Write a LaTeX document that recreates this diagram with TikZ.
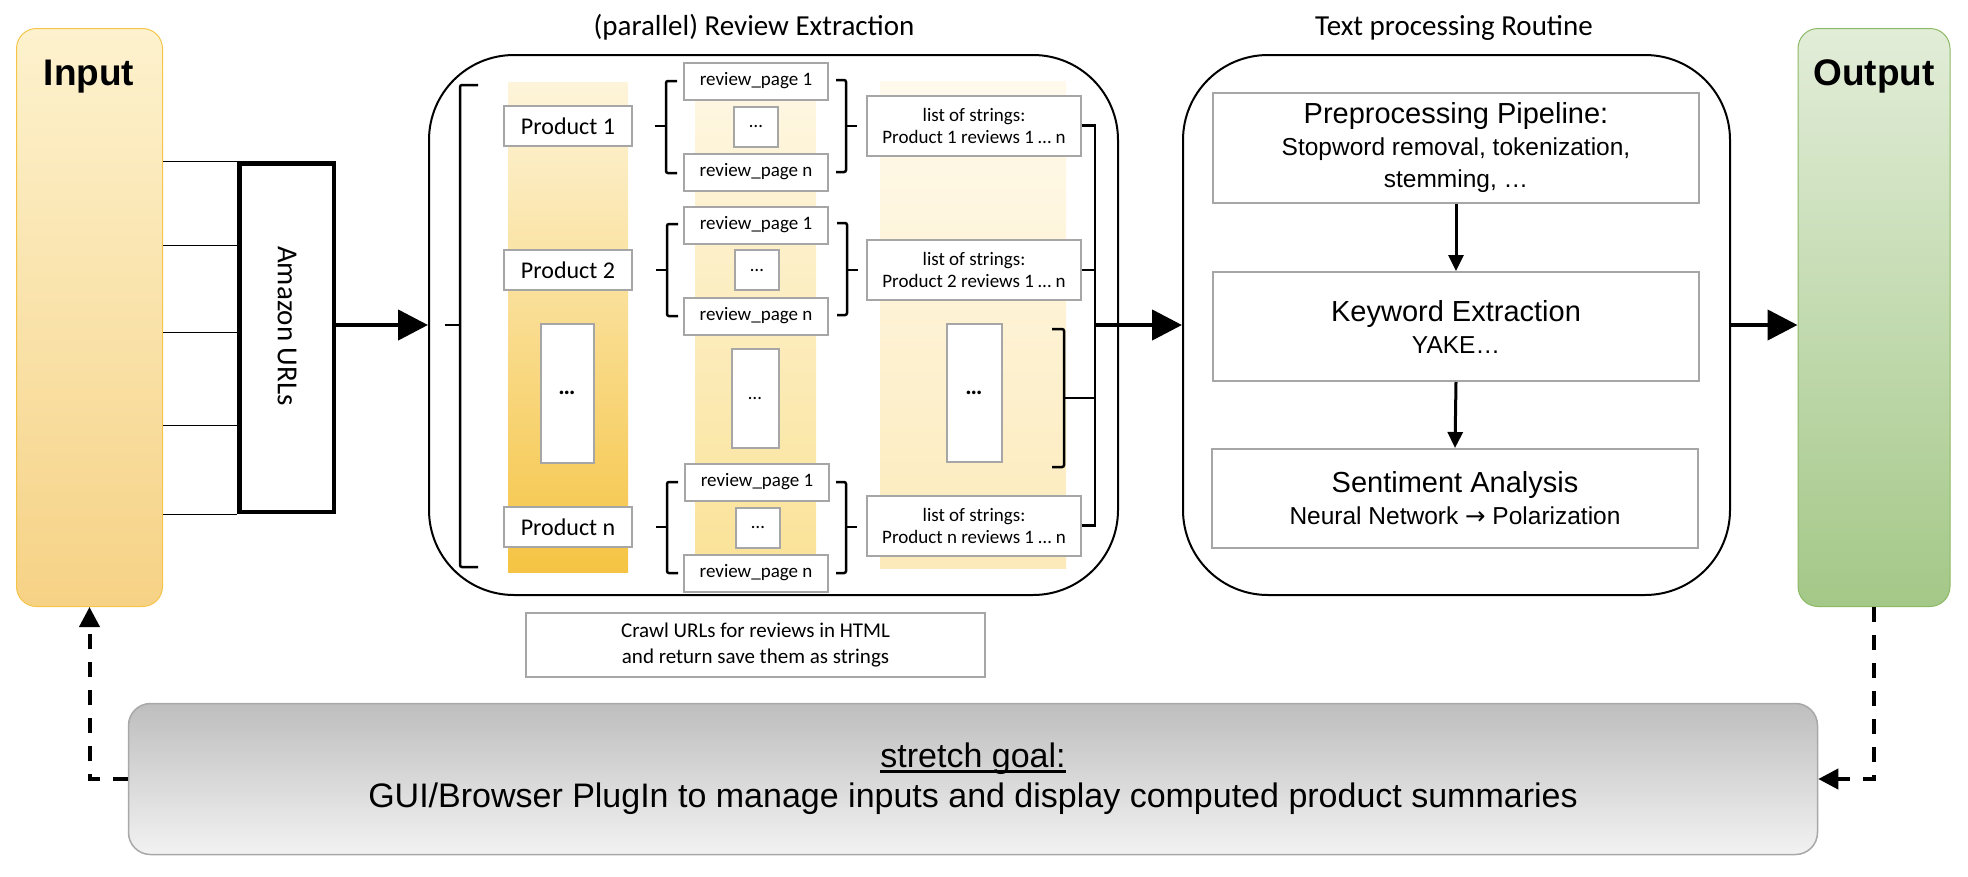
\documentclass[tikz,border=0pt]{standalone}
\usepackage{fontspec}
\setmainfont{Liberation Sans}
\newfontfamily\calfont{Carlito}
\newfontfamily\symfont{DejaVu Sans}
\usetikzlibrary{arrows.meta, positioning, calc}

\definecolor{boxgray}{RGB}{166,166,166}
\definecolor{inTop}{RGB}{253,242,206}
\definecolor{inBot}{RGB}{246,210,133}
\definecolor{inLine}{RGB}{246,196,72}
\definecolor{outTop}{RGB}{226,237,216}
\definecolor{outBot}{RGB}{164,200,136}
\definecolor{outLine}{RGB}{140,185,100}
\definecolor{colAtop}{RGB}{253,244,218}
\definecolor{colAbot}{RGB}{245,196,67}
\definecolor{colBtop}{RGB}{254,247,228}
\definecolor{colBbot}{RGB}{250,226,150}
\definecolor{colCtop}{RGB}{255,250,236}
\definecolor{colCbot}{RGB}{252,234,186}
\definecolor{guiTop}{RGB}{190,190,190}
\definecolor{guiBot}{RGB}{242,242,242}
\definecolor{guiLine}{RGB}{168,168,168}

\tikzset{
  grybox/.style={draw=boxgray, line width=2pt, fill=white, inner sep=0pt},
  bigbox/.style={draw, line width=2pt, rounded corners=85pt, inner sep=0pt,
    minimum height=540pt},
  column/.style={inner sep=0pt, draw=none},
  brak/.style={line width=2.5pt, rounded corners=2pt},
  fat/.style={line width=4.5pt, -{Triangle[length=30pt,width=30pt]}},
  conn/.style={line width=2.5pt},
  backlink/.style={line width=4pt, dash pattern=on 15pt off 13pt,
    -{Triangle[length=20pt,width=20pt]}}
}

\newcommand{\bracket}[6]{%
  \draw[brak] ({#1+#5},#2) -- (#1,#2) -- (#1,#3) -- ({#1+#5},#3);
  \draw[brak] (#1,#4) -- ({#1+#6},#4);}
\newcommand{\thickul}[1]{\setbox0\hbox{#1}\rlap{\rule[-5pt]{\wd0}{2.5pt}}\box0}

\begin{document}
\begin{tikzpicture}[x=1pt, y=-1pt]
  \useasboundingbox (0,0) rectangle (1968,876);

  \node[draw=inLine, line width=1pt, rounded corners=20pt, top color=inTop, bottom color=inBot,
    minimum width=146pt, minimum height=578pt, inner sep=0pt] (input) at (89.5,317.5) {};
  \node[anchor=base, font=\bfseries\fontsize{37}{44}\selectfont] (intitle) at (89,85) {Input};
  \node[draw=outLine, line width=1pt, rounded corners=20pt, top color=outTop, bottom color=outBot,
    minimum width=152pt, minimum height=578pt, inner sep=0pt] (output) at (1874,317.5) {};
  \node[anchor=base, font=\bfseries\fontsize{37}{44}\selectfont] (outtitle) at (1874,85) {Output};

  \node[draw, line width=4.5pt, minimum width=94.5pt, minimum height=348.5pt, inner sep=0pt]
    (amazon) at (286.5,337.5) {};
  \node[rotate=-90, font=\calfont\fontsize{29}{34}\selectfont] (urls) at (287,326) {Amazon URLs};

  \foreach \f in {0,0.239,0.487,0.749,1} {
    \path ($(amazon.north west)!\f!(amazon.south west)$) coordinate (p);
    \draw[line width=1pt] (p) -- (p -| input.east);
  }

  \node[bigbox, minimum width=689pt] (extract) at (773.5,325) {};
  \node[bigbox, minimum width=547pt] (textproc) at (1456.5,325) {};
  \node[anchor=base, font=\calfont\fontsize{29}{34}\selectfont] (extracttitle) at (754,35) {(parallel) Review Extraction};
  \node[anchor=base, font=\calfont\fontsize{29}{34}\selectfont] (proctitle) at (1454,35) {Text processing Routine};

  \node[column, minimum width=120pt, minimum height=490pt, top color=colAtop, bottom color=colAbot] (col1) at (568,327) {};
  \node[column, minimum width=121pt, minimum height=494pt, top color=colBtop, bottom color=colBbot] (col2) at (755.5,325) {};
  \node[column, minimum width=186pt, minimum height=487pt, top color=colCtop, bottom color=colCbot] (col3) at (973,324.5) {};

  \begin{scope}[every node/.style={grybox, minimum width=128pt, minimum height=40pt,
      font=\calfont\fontsize{24}{28}\selectfont}]
    \node (prod1) at (568,126) {Product 1};
    \node (prod2) at (568,270) {Product 2};
    \node (prodn) at (568,527) {Product n};
  \end{scope}

  \begin{scope}[every node/.style={grybox, minimum width=144pt, minimum height=37pt,
      font=\calfont\fontsize{19}{22}\selectfont}]
    \node (page1a) at (756,81) {review\_page 1};
    \node (page1n) at (756,172) {review\_page n};
    \node (page2a) at (756,225) {review\_page 1};
    \node (page2n) at (756,316) {review\_page n};
    \node (pagena) at (757,482) {review\_page 1};
    \node (pagenn) at (756,573) {review\_page n};
  \end{scope}

  \begin{scope}[every node/.style={grybox, minimum width=44pt, minimum height=40pt,
      font=\calfont\fontsize{19}{22}\selectfont}]
    \node (dots1) at (756,126.5) {…};
    \node (dots2) at (757,270) {…};
    \node (dotsn) at (758,527.5) {…};
    \node[minimum width=47pt, minimum height=99pt] (dotspage) at (755,398) {…};
    \node[minimum width=53pt, minimum height=139pt, font=\calfont\bfseries\fontsize{24}{28}\selectfont] (dotsprod) at (567,393) {…};
    \node[minimum width=55pt, minimum height=138pt, font=\calfont\bfseries\fontsize{24}{28}\selectfont] (dotslist) at (974,392.5) {…};
  \end{scope}

  \begin{scope}[every node/.style={grybox, minimum width=214pt, minimum height=60pt, align=center,
      font=\calfont\fontsize{19}{22}\selectfont}]
    \node (list1) at (974,125.5) {list of strings:\\Product 1 reviews 1 … n};
    \node (list2) at (974,270) {list of strings:\\Product 2 reviews 1 … n};
    \node (listn) at (974,525.5) {list of strings:\\Product n reviews 1 … n};
  \end{scope}

  \bracket{460}{85}{567}{325}{18}{-15}
  \bracket{666}{81}{173}{126}{11}{-11}
  \bracket{846}{80}{172}{126}{-10}{11}
  \bracket{667}{224}{316}{270}{11}{-11}
  \bracket{847}{223}{315}{270}{-10}{11}
  \bracket{667}{482}{573}{527}{11}{-11}
  \bracket{846}{482}{573}{527}{-10}{11}
  \bracket{1064}{329}{467}{398}{-12}{0}

  \node[grybox, minimum width=459pt, minimum height=64pt, align=center,
    font=\calfont\fontsize{21}{26}\selectfont] (crawl) at (755.5,645)
    {Crawl URLs for reviews in HTML\\and return save them as strings};

  \begin{scope}[every node/.style={grybox, minimum width=486pt, align=center,
      font=\fontsize{24.5}{32}\selectfont}]
    \node[minimum height=110pt] (prep) at (1456,148)
      {{\fontsize{29}{32}\selectfont Preprocessing Pipeline:}\\Stopword removal, tokenization,\\stemming, …};
    \node[minimum height=109pt] (keyword) at (1456,326.5)
      {{\fontsize{29}{32}\selectfont Keyword Extraction}\\YAKE…};
    \node[minimum height=99pt] (sentiment) at (1455,498.5)
      {{\fontsize{29}{32}\selectfont Sentiment Analysis}\\Neural Network {\symfont →} Polarization};
  \end{scope}

  \node[draw=guiLine, line width=1.5pt, rounded corners=22pt, top color=guiTop, bottom color=guiBot,
    minimum width=1689pt, minimum height=151pt, inner sep=0pt, align=center,
    font=\fontsize{34}{40}\selectfont] (gui) at (973,779)
    {\thickul{stretch goal:}\\GUI/Browser PlugIn to manage inputs and display computed product summaries};

  \coordinate (bus) at (1095,325);
  \coordinate (dotsbrk) at (1064,398);

  \begin{scope}[every path/.style={conn}]
    \draw (list1.east) -- (list1.east -| bus) -- (listn.east -| bus) -- (listn.east);
    \draw (list2.east) -- (list2.east -| bus);
    \draw (dotsbrk) -- (dotsbrk -| bus);
  \end{scope}

  \draw[fat] (amazon.east |- extract.west) -- (extract.west);
  \draw[fat] (bus) -- (bus -| textproc.west);
  \draw[fat] (textproc.east) -- (textproc.east -| output.west);

  \draw[line width=3pt, -{Triangle[length=16pt,width=15pt]}] (prep.south) -- (keyword.north);
  \draw[line width=3pt, -{Triangle[length=16pt,width=15pt]}] (keyword.south) -- (sentiment.north);

  \draw[backlink] (gui.west) -| (input.south);
  \draw[backlink] (output.south) |- (gui.east);
\end{tikzpicture}
\end{document}
